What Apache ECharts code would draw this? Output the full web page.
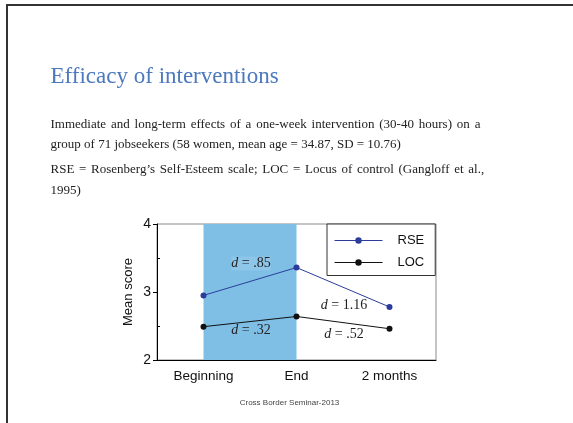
<!DOCTYPE html>
<html>
<head>
<meta charset="utf-8">
<script src="https://cdn.jsdelivr.net/npm/echarts@6/dist/echarts.min.js"></script>
<style>
  html, body { margin: 0; padding: 0; background: #fff; }
  #chart { width: 573px; height: 423px; }
</style>
</head>
<body>
<div id="chart"></div>
<script>
// Time points and mean scores of the two scales
const categories = ['Beginning', 'End', '2 months'];
const rseValues = [2.95, 3.36, 2.78];
const locValues = [2.49, 2.64, 2.46];
const yTicks = [2, 3, 4];

// Effect sizes between consecutive time points: [from index, to index, label, y position]
const effectLabels = [
  { from: 0, to: 1, text: '.85', y: 3.42, shade: true },
  { from: 0, to: 1, text: '.32', y: 2.44 },
  { from: 1, to: 2, text: '1.16', y: 2.81 },
  { from: 1, to: 2, text: '.52', y: 2.38 }
];

const titleText = 'Efficacy of interventions';
const bodyLines = [
  'Immediate and long-term effects of a one-week intervention (30-40 hours) on a',
  'group of 71 jobseekers (58 women, mean age = 34.87, SD = 10.76)',
  'RSE = Rosenberg\u2019s Self-Esteem scale; LOC = Locus of control (Gangloff et al.,',
  '1995)'
];
const footerText = 'Cross Border Seminar-2013';

const serif = '"Liberation Serif", "Times New Roman", serif';
const sans = '"Liberation Sans", Arial, sans-serif';

const chart = echarts.init(document.getElementById('chart'), null, { renderer: 'canvas' });

const bodyBaselines = [118, 138.5, 163.5, 184];
// lines 1 and 3 are set slightly looser in the slide
const bodyWordSpacing = [1.0, 0, 0.9, 0];

const slideGraphics = [
  { type: 'line', shape: { x1: 6, y1: 5, x2: 573, y2: 5 }, style: { stroke: '#333', lineWidth: 2 } },
  { type: 'line', shape: { x1: 7, y1: 4, x2: 7, y2: 423 }, style: { stroke: '#333', lineWidth: 2 } },
  { type: 'text', x: 50.5, y: 65, style: { text: titleText, fill: '#4c79bd', font: '23px ' + serif, textVerticalAlign: 'alphabetic', textBaseline: 'alphabetic' } },
  { type: 'text', x: 289.5, y: 403, style: { text: footerText, fill: '#444', font: '8px ' + sans, textAlign: 'center', textVerticalAlign: 'middle' } }
];

// Body lines are laid out word by word so the spacing can be widened per line
const measureCtx = document.createElement('canvas').getContext('2d');
measureCtx.font = '13px ' + serif;
const spaceW = measureCtx.measureText(' ').width;
bodyLines.forEach((line, i) => {
  let x = 50.5;
  line.split(' ').forEach(word => {
    slideGraphics.push({
      type: 'text', x: x, y: bodyBaselines[i],
      style: { text: word, fill: '#222', font: '13px ' + serif, textBaseline: 'alphabetic', textVerticalAlign: 'alphabetic' }
    });
    x += measureCtx.measureText(word).width + spaceW + bodyWordSpacing[i] * 1.6;
  });
});

const option = {
  animation: false,
  backgroundColor: '#fff',
  grid: {
    left: 157, top: 224, right: 137, bottom: 63,
    show: true, borderColor: '#8a8a8a', borderWidth: 1, backgroundColor: 'transparent'
  },
  legend: {
    orient: 'vertical',
    left: 327, top: 224,
    padding: [10, 11, 6.5, 7],
    itemGap: 9,
    itemWidth: 48, itemHeight: 8,
    borderColor: '#333', borderWidth: 1,
    backgroundColor: '#fff',
    lineStyle: { width: 1 },
    textStyle: { fontFamily: sans, fontSize: 13, color: '#111', padding: [0, 0, 0, 10] },
    data: ['RSE', 'LOC']
  },
  xAxis: {
    type: 'category',
    data: categories,
    boundaryGap: true,
    axisLine: { lineStyle: { color: '#000', width: 1 } },
    axisTick: { alignWithLabel: true, length: 4, lineStyle: { color: '#000' } },
    axisLabel: { fontFamily: sans, fontSize: 13.5, color: '#111', margin: 9 }
  },
  yAxis: [
    {
      type: 'value', min: 2, max: 4, interval: 1,
      name: 'Mean score', nameLocation: 'middle', nameGap: 22, nameRotate: 90,
      nameTextStyle: { fontFamily: sans, fontSize: 13, color: '#111' },
      axisLine: { show: true, lineStyle: { color: '#000', width: 1 } },
      axisTick: { show: true, length: 4, lineStyle: { color: '#000' } },
      axisLabel: { fontFamily: sans, fontSize: 14, color: '#111', margin: 6,
        formatter: v => (yTicks.indexOf(v) >= 0 ? String(v) : '') },
      splitLine: { show: false }
    },
    {
      type: 'value', min: 2, max: 4, position: 'left',
      axisLine: { show: false },
      axisTick: { show: true, inside: true, length: 3, customValues: [2.5, 3.5], lineStyle: { color: '#000' } },
      axisLabel: { show: false },
      splitLine: { show: false }
    }
  ],
  series: [
    {
      name: 'RSE', type: 'line', data: rseValues,
      symbol: 'circle', symbolSize: 6,
      color: '#2b3c9b',
      lineStyle: { width: 1, color: '#2b3c9b' },
      itemStyle: { color: '#2b3c9b' },
      z: 3,
      markArea: {
        silent: true,
        itemStyle: { color: '#7fbfe6' },
        data: [[{ xAxis: categories[0], yAxis: 2 }, { xAxis: categories[1], yAxis: 4 }]]
      }
    },
    {
      name: 'LOC', type: 'line', data: locValues,
      symbol: 'circle', symbolSize: 6,
      color: '#111',
      lineStyle: { width: 1, color: '#111' },
      itemStyle: { color: '#111' },
      z: 3
    }
  ],
  graphic: slideGraphics
};

chart.setOption(option);

// Effect-size labels sit midway between the two time points they compare
const labelGraphics = effectLabels.map(e => {
  const a = chart.convertToPixel({ gridIndex: 0 }, [categories[e.from], e.y]);
  const b = chart.convertToPixel({ gridIndex: 0 }, [categories[e.to], e.y]);
  return {
    type: 'text',
    x: (a[0] + b[0]) / 2 + 1, y: a[1],
    z: 10,
    style: {
      text: '{i|d} = ' + e.text,
      rich: { i: { fontStyle: 'italic', fontFamily: serif, fontSize: 14, fill: '#222' } },
      font: '14px ' + serif, fill: '#222',
      textAlign: 'center', textVerticalAlign: 'middle', align: 'center', verticalAlign: 'middle',
      backgroundColor: e.shade ? 'rgba(255,255,255,0.12)' : undefined
    }
  };
});
chart.setOption({ graphic: slideGraphics.concat(labelGraphics) });
</script>
</body>
</html>
